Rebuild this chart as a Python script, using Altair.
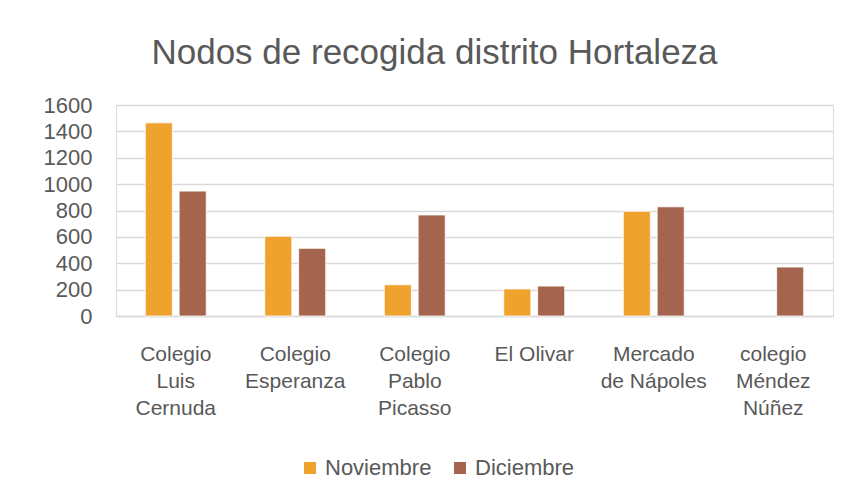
import altair as alt
import pandas as pd

categories = ["Colegio|Luis|Cernuda", "Colegio|Esperanza", "Colegio|Pablo|Picasso",
              "El Olivar", "Mercado|de Nápoles", "colegio|Méndez|Núñez"]
noviembre = [1465, 605, 237, 205, 794, None]
diciembre = [947, 513, 766, 227, 828, 371]
series = ["Noviembre", "Diciembre"]
colors = ["#F0A22E", "#A5644E"]
y_ticks = [0, 200, 400, 600, 800, 1000, 1200, 1400, 1600]
title_text = "Nodos de recogida distrito Hortaleza"

rows = []
for c, n, d in zip(categories, noviembre, diciembre):
    if n is not None:
        rows.append({"sitio": c, "mes": series[0], "valor": n})
    if d is not None:
        rows.append({"sitio": c, "mes": series[1], "valor": d})
df = pd.DataFrame(rows)

FONT = "Liberation Sans"
GREY = "#595959"

chart = alt.Chart(df).mark_bar(stroke="white", strokeWidth=0.8).encode(
    x=alt.X("sitio:N", sort=categories, title=None,
            scale=alt.Scale(paddingInner=0.49, paddingOuter=0.245),
            axis=alt.Axis(labelAngle=0, labelExpr="split(datum.label, '|')",
                          labelFont=FONT, labelFontSize=21, labelColor=GREY,
                          labelLineHeight=27, labelPadding=27, ticks=False,
                          domain=True, domainColor="#D9D9D9", domainWidth=1.3,
                          labelBaseline="top")),
    xOffset=alt.XOffset("mes:N", sort=series,
                        scale=alt.Scale(paddingInner=0.2, paddingOuter=0)),
    y=alt.Y("valor:Q", title=None,
            scale=alt.Scale(domain=[0, 1600], nice=False),
            axis=alt.Axis(values=y_ticks, ticks=False, domain=False, format="d",
                          labelFont=FONT, labelFontSize=22, labelColor=GREY,
                          labelPadding=24, gridColor="#D9D9D9", gridWidth=1.3)),
    color=alt.Color("mes:N", sort=series,
                    scale=alt.Scale(domain=series, range=colors),
                    legend=alt.Legend(title=None, orient="none", direction="horizontal",
                                      legendX=183, legendY=352, padding=0,
                                      symbolType="square", symbolSize=144,
                                      symbolStrokeWidth=0, labelFont=FONT,
                                      labelFontSize=22, labelColor=GREY,
                                      labelOffset=4, columnPadding=17)),
).properties(
    width=717, height=211,
    padding={"left": 108, "top": 97, "right": 12, "bottom": 180},
    autosize=alt.AutoSizeParams(type="none"),
    title=alt.TitleParams(title_text, font=FONT, fontSize=35, fontWeight="normal",
                          color=GREY, anchor="middle", dx=-40, offset=23),
).configure_view(stroke=None).configure(background="white")

chart.save("out.html", embed_options={"renderer": "svg", "actions": False})
